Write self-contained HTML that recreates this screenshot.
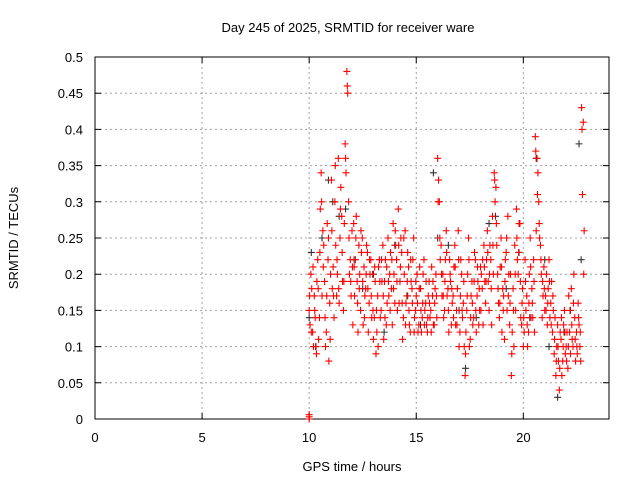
<!DOCTYPE html>
<html><head><meta charset="utf-8"><style>
body{margin:0;background:#fff}
svg{display:block;font-family:"Liberation Sans",sans-serif}
</style></head><body>
<svg id="c" width="640" height="480" xmlns="http://www.w3.org/2000/svg">
<text x="348" y="32" font-size="13" text-anchor="middle">Day 245 of 2025, SRMTID for receiver ware</text>
<text x="352" y="471" font-size="13" text-anchor="middle">GPS time / hours</text>
<text x="18" y="238" font-size="13" text-anchor="middle" transform="rotate(-90 18 238)">SRMTID / TECUs</text>
</svg>
<script>
const xTicks=[0,5,10,15,20];
const yTicks=[0,0.05,0.1,0.15,0.2,0.25,0.3,0.35,0.4,0.45,0.5];
const yTickLabels=["0","0.05","0.1","0.15","0.2","0.25","0.3","0.35","0.4","0.45","0.5"];
const tStart=10, tStep=0.08;
const vR1=[.15,.20,.12,.17,.10,.22,.14,.34,.26,.19,.12,.22,.16,
.33,.21,.30,.17,.36,.25,.28,.15,.38,.48,.30,.22,.26,
.27,.22,.19,.24,.15,.25,.21,.18,.23,.16,.22,.20,.14,
.09,.17,.22,.15,.24,.19,.13,.25,.20,.18,.27,.16,.22,
.29,.19,.23,.14,.26,.17,.21,.12,.18,.25,.15,.20,.13,
.18,.14,.22,.16,.12,.19,.15,.17,.13,.20,.36,.30,.24,
.20,.15,.26,.18,.22,.13,.17,.24,.15,.26,.12,.20,.16,
.06,.15,.25,.11,.19,.14,.22,.17,.13,.21,.18,.24,.16,
.26,.15,.22,.28,.34,.32,.20,.14,.25,.18,.11,.23,.28,
.13,.06,.18,.24,.29,.20,.27,.13,.10,.22,.17,.12,.25,
.18,.22,.39,.36,.30,.24,.14,.21,.17,.13,.22,.16,.12,
.09,.06,.13,.04,.11,.08,.15,.10,.07,.12,.18,.10,.14,
.12,.16,.10,.43,.41];
const vR2=[.13,.18,.10,.14,.19,.11,.29,.17,.24,.10,.27,.08,.20,
.18,.14,.24,.20,.16,.32,.19,.27,.34,.45,.20,.17,.13,
.17,.28,.12,.20,.23,.13,.17,.24,.12,.20,.14,.11,.19,
.12,.21,.14,.19,.11,.22,.16,.17,.23,.13,.20,.24,.15,
.16,.25,.11,.20,.16,.23,.13,.19,.22,.14,.17,.12,.21,
.12,.20,.15,.13,.17,.14,.21,.13,.18,.14,.33,.22,.17,
.14,.22,.17,.12,.19,.16,.21,.13,.18,.10,.22,.14,.10,
.12,.20,.10,.17,.13,.23,.12,.19,.15,.20,.13,.19,.22,
.19,.24,.13,.20,.30,.24,.16,.21,.12,.17,.22,.15,.20,
.20,.12,.10,.15,.22,.27,.14,.18,.12,.15,.10,.20,.14,
.14,.12,.26,.34,.25,.20,.17,.15,.20,.18,.14,.19,.15,
.14,.10,.08,.12,.06,.13,.09,.12,.17,.09,.11,.20,.08,
.09,.13,.08,.31,.26];
const vR3=[.17,.12,.21,.15,.09,.18,.23,.30,.21,.14,.17,.25,.11,
.26,.17,.35,.22,.18,.29,.23,.19,.36,.46,.25,.19,.21,
.21,.25,.16,.18,.26,.19,.14,.20,.18,.22,.17,.15,.21,
.15,.10,.19,.22,.17,.14,.21,.19,.15,.22,.18,.26,.19,
.24,.21,.16,.25,.13,.19,.15,.22,.16,.12,.19,.16,.18,
.15,.16,.13,.19,.14,.16,.12,.19,.16,.17,.30,.25,.20,
.17,.19,.23,.15,.20,.18,.14,.21,.13,.22,.17,.15,.19,
.09,.17,.22,.14,.16,.19,.15,.21,.18,.15,.22,.21,.19,
.23,.20,.18,.24,.33,.27,.18,.16,.21,.15,.19,.25,.17,
.16,.09,.15,.20,.25,.23,.19,.16,.14,.19,.13,.16,.21,
.16,.19,.37,.31,.27,.22,.19,.18,.15,.16,.19,.13,.17,
.11,.08,.10,.07,.14,.10,.12,.08,.10,.15,.13,.16,.11,
.10,.14,.12,.40,.20];
const tK=[10.0,10.1,10.3,10.6,10.9,11.1,11.4,11.7,12.1,12.5,13.0,13.5,14.0,14.6,15.2,15.8,16.0,16.5,17.0,17.3,17.8,18.4,18.7,19.2,19.8,20.3,20.6,21.0,21.2,21.6,21.9,22.2,22.6,22.7];
const vK=[.14,.23,.10,.25,.33,.30,.28,.29,.22,.18,.20,.12,.24,.17,.13,.34,.25,.24,.15,.07,.14,.27,.28,.18,.23,.14,.36,.22,.10,.03,.12,.15,.38,.22];
const tZero=[10.0,10.0,10.0];
const vZero=[0,0.003,0.006];

const L=95,R=609,T=57,B=419;
const X=t=>L+(t-0)/(24-0)*(R-L);
const Y=v=>B-(v-0)/(0.5-0)*(B-T);
const svg=document.getElementById('c');
const NS='http://www.w3.org/2000/svg';
function mk(tag,attrs){const e=document.createElementNS(NS,tag);for(const k in attrs)e.setAttribute(k,attrs[k]);svg.appendChild(e);return e;}
xTicks.forEach((t,i)=>{
 if(t>0){const g=mk('line',{x1:X(t),x2:X(t),y1:T,y2:B,stroke:'#a0a0a0','stroke-dasharray':'2,3'});
 
 }
 const tk=mk('path',{d:`M${X(t)},${B}v-6M${X(t)},${T}v6`,stroke:'#000'});
 
 
 const lb=mk('text',{x:X(t),y:B+23,'font-size':13,'text-anchor':'middle'});lb.textContent=String(t);
 
 
});
yTicks.forEach((v,i)=>{
 if(v>0&&v<0.5){const g=mk('line',{x1:L,x2:R,y1:Y(v),y2:Y(v),stroke:'#a0a0a0','stroke-dasharray':'2,3'});
 
 }
 const tk=mk('path',{d:`M${L},${Y(v)}h6M${R},${Y(v)}h-6`,stroke:'#000'});
 
 
 const lb=mk('text',{x:L-12,y:Y(v)+5,'font-size':13,'text-anchor':'end'});lb.textContent=yTickLabels[i];
 
 
});
const frame=mk('rect',{x:L,y:T,width:R-L,height:B-T,fill:'none',stroke:'#000'});


function plus(t,v,col,name){
 const p=mk('path',{d:`M${X(t)-3.5},${Y(v)}h7M${X(t)},${Y(v)-3.5}v7`,stroke:col,'stroke-width':1.1});
 
 
}
tK.forEach((t,i)=>plus(t,vK[i],'#333','point-black'));
vR1.forEach((v,i)=>plus(tStart+i*tStep,v,'#ff0000','point-red'));
vR2.forEach((v,i)=>plus(tStart+i*tStep+0.04,v,'#ff0000','point-red'));
vR3.forEach((v,i)=>plus(tStart+i*tStep+0.02,v,'#ff0000','point-red'));
tZero.forEach((t,i)=>plus(t,vZero[i],'#ff0000','point-red-zero'));
</script>
</body></html>
